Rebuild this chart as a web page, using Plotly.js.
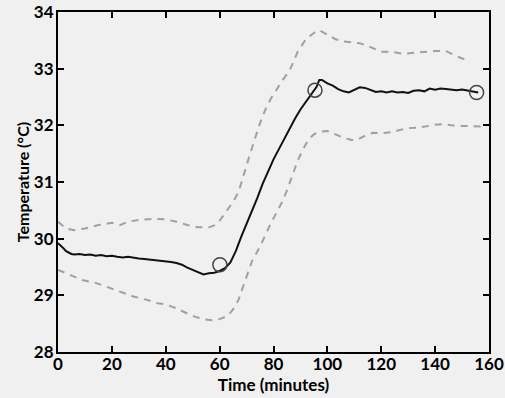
<!DOCTYPE html>
<html>
<head>
<meta charset="utf-8">
<script src="https://cdn.plot.ly/plotly-3.0.1.min.js"></script>
<style>html,body{margin:0;padding:0;background:#f0f0f0;}#chart{width:505px;height:398px;}</style>
</head>
<body>
<div id="chart"></div>
<script>
// Mean temperature (solid black)
var meanTime = [0,1,2,3,4,5,6,8,10,12,14,16,18,20,22,24,26,28,30,32,34,36,38,40,42,44,46,48,50,52,54,56,58,60,62,64,66,68,70,72,74,76,78,80,82,84,86,88,90,92,94,96,97,98,100,102,104,106,108,110,112,114,116,118,120,122,124,126,128,130,132,134,136,138,140,142,144,146,148,150,152,154,156];
var meanTemp = [29.92,29.88,29.83,29.78,29.75,29.73,29.72,29.73,29.71,29.72,29.70,29.71,29.69,29.70,29.68,29.67,29.68,29.66,29.65,29.64,29.63,29.63,29.61,29.60,29.59,29.57,29.54,29.49,29.45,29.40,29.37,29.39,29.40,29.43,29.48,29.58,29.78,30.03,30.25,30.50,30.72,30.97,31.20,31.40,31.58,31.77,31.95,32.12,32.28,32.42,32.55,32.68,32.80,32.80,32.74,32.70,32.64,32.60,32.58,32.63,32.67,32.66,32.62,32.59,32.60,32.58,32.60,32.58,32.59,32.57,32.61,32.62,32.60,32.65,32.63,32.65,32.64,32.63,32.62,32.63,32.61,32.59,32.58];

// Upper bound (dashed grey)
var upperTime = [0,3,6,10,15,20,23,26,30,35,40,44,48,52,56,59,62,65,67,69,71,73,75,77,79,81,83,86,89,92,95,97,100,103,106,109,112,116,120,124,128,132,136,140,144,147,150,152];
var upperTemp = [30.30,30.18,30.15,30.18,30.24,30.28,30.24,30.30,30.33,30.35,30.34,30.30,30.24,30.20,30.20,30.25,30.45,30.65,30.82,31.15,31.45,31.75,32.04,32.28,32.47,32.62,32.77,32.97,33.30,33.52,33.63,33.68,33.60,33.52,33.48,33.47,33.45,33.38,33.30,33.30,33.26,33.28,33.30,33.31,33.31,33.25,33.18,33.16];

// Lower bound (dashed grey)
var lowerTime = [0,5,9,14,19,24,28,33,37,40,44,48,51,54,57,60,63,65,67,70,72,75,77,79,81,83,85,87,89,91,93,95,97,100,103,106,109,111,114,117,120,124,127,130,134,137,140,143,146,150,154,157];
var lowerTemp = [29.45,29.35,29.27,29.22,29.13,29.05,28.98,28.92,28.86,28.84,28.77,28.68,28.62,28.58,28.56,28.58,28.64,28.75,28.92,29.33,29.60,29.86,30.08,30.27,30.45,30.63,30.85,31.10,31.38,31.58,31.75,31.84,31.89,31.90,31.84,31.78,31.74,31.74,31.82,31.87,31.86,31.88,31.92,31.95,31.96,31.99,32.01,32.02,32.00,31.99,31.98,31.98];

// Marked points (open circles)
var markTime = [60.1, 95.4, 155.4];
var markTemp = [29.54, 32.62, 32.58];

var xTicks = [0,20,40,60,80,100,120,140,160];
var yTicks = [28,29,30,31,32,33,34];

var fam = 'Lato, "Open Sans", sans-serif';
var tickFont = {family: fam, size: 17, color: '#000', weight: 700};

var traces = [
  {x: upperTime, y: upperTemp, mode: 'lines', line: {color: '#a0a0a0', width: 2, dash: '7px,6px'}, hoverinfo: 'skip'},
  {x: lowerTime, y: lowerTemp, mode: 'lines', line: {color: '#a0a0a0', width: 2, dash: '7px,6px'}, hoverinfo: 'skip'},
  {x: meanTime, y: meanTemp, mode: 'lines', line: {color: '#111', width: 2}},
  {x: markTime, y: markTemp, mode: 'markers', marker: {symbol: 'circle-open', size: 14, color: '#444', line: {width: 1.5, color: '#444'}}}
];

var layout = {
  width: 505, height: 398,
  margin: {l: 58, r: 16, t: 12, b: 46},
  paper_bgcolor: '#f0f0f0', plot_bgcolor: '#f0f0f0',
  showlegend: false,
  font: tickFont,
  xaxis: {
    range: [0, 160], tickvals: xTicks, ticktext: xTicks.map(String),
    ticks: 'inside', ticklen: 6, tickwidth: 2, tickcolor: '#000',
    showline: true, linecolor: '#000', linewidth: 2, mirror: 'ticks',
    showgrid: false, zeroline: false,
    tickfont: tickFont, ticklabelstandoff: -4,
    title: {text: 'Time (minutes)', font: {family: fam, size: 17, color: '#000', weight: 700}, standoff: 0}
  },
  yaxis: {
    range: [28, 34], tickvals: yTicks, ticktext: yTicks.map(String),
    ticks: 'inside', ticklen: 6, tickwidth: 2, tickcolor: '#000',
    showline: true, linecolor: '#000', linewidth: 2, mirror: 'ticks',
    showgrid: false, zeroline: false,
    tickfont: tickFont, ticklabelstandoff: -1,
    title: {text: 'Temperature (°C)', font: {family: fam, size: 16, color: '#000', weight: 700}, standoff: 0}
  }
};

Plotly.newPlot('chart', traces, layout, {displayModeBar: false, staticPlot: true});
</script>
</body>
</html>
